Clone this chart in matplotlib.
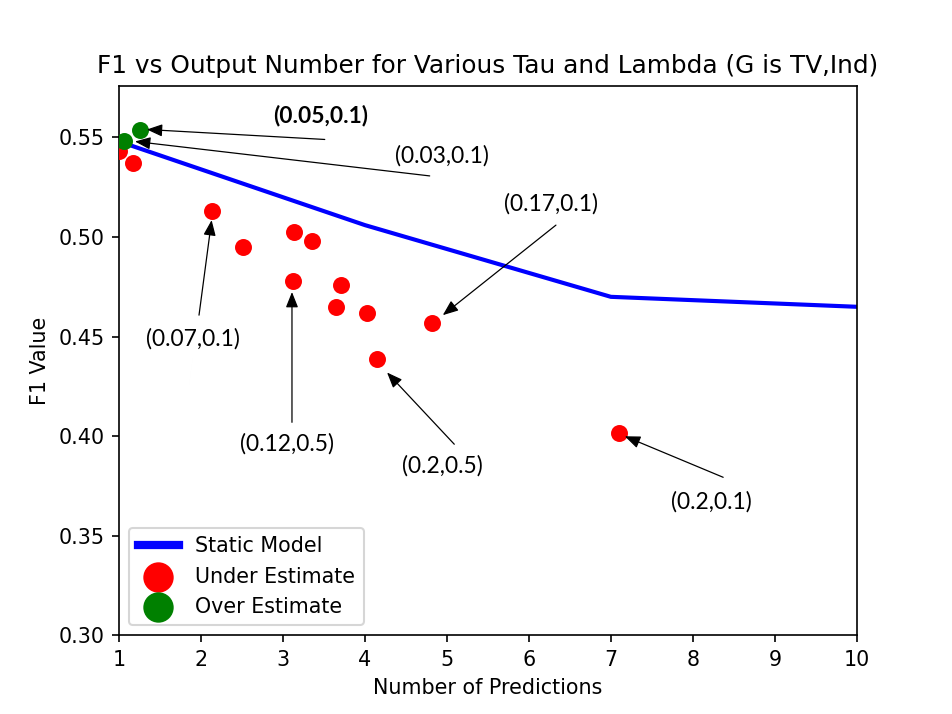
import numpy as np
import matplotlib
matplotlib.use('Agg')
import matplotlib.pyplot as plt

# static model curve
static_x = [1, 4, 7, 10]
static_f1 = [0.548, 0.506, 0.470, 0.465]

# under estimate points
under_x = [1.0, 1.17, 2.13, 2.51, 3.13, 3.35, 3.12, 3.71, 3.65, 4.02, 4.15, 4.82, 7.10]
under_f1 = [0.543, 0.537, 0.513, 0.495, 0.5025, 0.498, 0.478, 0.476, 0.465, 0.462, 0.439, 0.457, 0.4015]

# over estimate points
over_x = [1.06, 1.26]
over_f1 = [0.548, 0.554]

# annotations: label, text pos, arrow tail, arrow head, bold
ann_labels = ['(0.05,0.1)', '(0.03,0.1)', '(0.07,0.1)', '(0.12,0.5)', '(0.2,0.5)', '(0.17,0.1)', '(0.2,0.1)']
ann_text_xy = [(3.46, 0.5608), (4.94, 0.5407), (1.90, 0.4487), (3.05, 0.396), (4.95, 0.385), (6.27, 0.5166), (8.22, 0.3673)]
ann_tail = [(3.51, 0.549), (4.79, 0.5307), (1.976, 0.4608), (3.11, 0.407), (5.09, 0.396), (6.33, 0.506), (8.37, 0.3794)]
ann_head = [(1.34, 0.554), (1.195, 0.548), (2.13, 0.5085), (3.11, 0.4724), (4.27, 0.432), (4.95, 0.4608), (7.17, 0.400)]
ann_bold = [True, False, False, False, False, False, False]

fig = plt.figure(figsize=(6.4, 4.8), dpi=148.75)
ax = fig.add_subplot(111)

ax.plot(static_x, static_f1, '-', color='blue', linewidth=2.0, label='Static Model')
ax.scatter(under_x, under_f1, s=52, color='red', label='Under Estimate', zorder=3)
ax.scatter(over_x, over_f1, s=52, color='green', label='Over Estimate', zorder=3)

for lab, t, a, h, b in zip(ann_labels, ann_text_xy, ann_tail, ann_head, ann_bold):
    ax.annotate('', xy=h, xytext=a,
                arrowprops=dict(arrowstyle='-|>,head_length=0.45,head_width=0.18',
                                mutation_scale=14, color='black', lw=0.6,
                                shrinkA=0, shrinkB=0))
    ax.text(t[0], t[1], lab, ha='center', va='center', fontsize=11,
            family=['Lato', 'DejaVu Sans'], fontweight='bold' if b else 'normal')

ax.set_xlim(1, 10)
ax.set_ylim(0.30, 0.576)
ax.set_xticks(range(1, 11))
ax.set_title('F1 vs Output Number for Various Tau and Lambda (G is TV,Ind)')
ax.set_xlabel('Number of Predictions')
ax.set_ylabel('F1 Value')

leg = ax.legend(loc='lower left', markerscale=1.9)
leg.legend_handles[0].set_linewidth(4.0)

fig.savefig('out.png', dpi=148.75)
